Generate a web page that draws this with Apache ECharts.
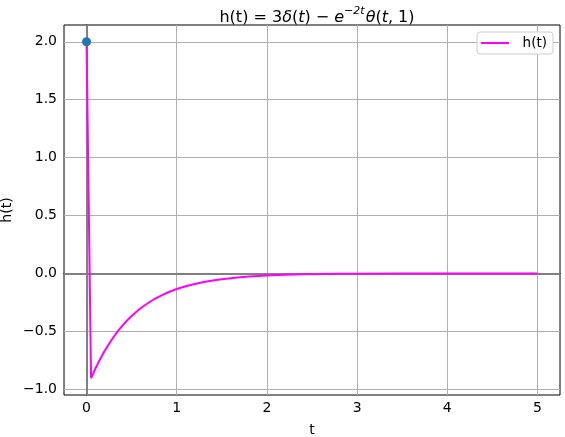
<!DOCTYPE html>
<html>
<head>
<meta charset="utf-8">
<script src="https://cdn.jsdelivr.net/npm/echarts@6/dist/echarts.min.js"></script>
<style>
  html, body { margin: 0; padding: 0; background: #fff; }
  #chart { width: 565px; height: 437px; }
</style>
</head>
<body>
<div id="chart"></div>
<script>
// values
const tVals = [0, 0.05, 0.10, 0.15, 0.20, 0.25, 0.30, 0.35, 0.40, 0.45, 0.50,
  0.55, 0.60, 0.65, 0.70, 0.75, 0.80, 0.85, 0.90, 0.95, 1.00,
  1.1, 1.2, 1.3, 1.4, 1.5, 1.6, 1.7, 1.8, 1.9, 2.0,
  2.2, 2.4, 2.6, 2.8, 3.0, 3.5, 4.0, 4.5, 5.0];
const hVals = [2.0, -0.905, -0.819, -0.741, -0.670, -0.607, -0.549, -0.497, -0.449, -0.407, -0.368,
  -0.333, -0.301, -0.273, -0.247, -0.223, -0.202, -0.183, -0.165, -0.150, -0.135,
  -0.111, -0.091, -0.074, -0.061, -0.050, -0.041, -0.033, -0.027, -0.022, -0.018,
  -0.012, -0.008, -0.006, -0.004, -0.002, -0.001, 0, 0, 0];
const dotPoint = [0, 2];
const xTicks = [0, 1, 2, 3, 4, 5];
const yTicks = [-1.0, -0.5, 0.0, 0.5, 1.0, 1.5, 2.0];

const font = 'DejaVu Sans';
const magenta = '#ff00ff';
const chart = echarts.init(document.getElementById('chart'));

const gridLines = xTicks.map(v => ({ xAxis: v })).concat(yTicks.map(v => ({ yAxis: v })));

const option = {
  animation: false,
  backgroundColor: '#fff',
  textStyle: { fontFamily: font },
  title: {
    text: '{n|h(t) = 3}{i|δ}{n|(}{i|t}{n|) − }{i|e}{s|−2t}{i|θ}{n|(}{i|t}{n|, 1)}',
    left: 312,
    textAlign: 'center',
    top: 1,
    textStyle: {
      fontWeight: 'normal',
      rich: {
        n: { fontFamily: font, fontSize: 16, fontWeight: 'normal', color: '#000' },
        i: { fontFamily: font, fontSize: 16, fontWeight: 'normal', fontStyle: 'italic', color: '#000' },
        s: { fontFamily: font, fontSize: 11, fontWeight: 'normal', fontStyle: 'italic', color: '#000', padding: [0, 1, 12, 0] }
      }
    }
  },
  legend: {
    right: 12,
    top: 32,
    z: 10,
    padding: [4, 6, 4, 4],
    backgroundColor: '#fff',
    borderColor: '#cccccc',
    borderWidth: 1,
    borderRadius: 3,
    itemWidth: 28,
    itemHeight: 2,
    itemGap: 5,
    data: [{ name: 'h(t)', icon: 'rect' }],
    formatter: name => '  ' + name,
    textStyle: { fontFamily: font, fontSize: 13.5, color: '#000' }
  },
  grid: {
    left: 64, top: 25, width: 496, height: 370,
    outerBoundsMode: 'none',
    containLabel: false,
    show: true, borderColor: '#000', borderWidth: 1
  },
  xAxis: {
    type: 'value',
    min: -0.25, max: 5.25,
    name: 't',
    nameLocation: 'middle',
    nameGap: 28,
    nameMoveOverlap: false,
    nameTextStyle: { fontFamily: font, fontSize: 14, color: '#000' },
    axisLine: { show: true, lineStyle: { color: '#000', width: 1 } },
    axisTick: { show: true, customValues: xTicks, length: 4, lineStyle: { color: '#000' } },
    axisLabel: { customValues: xTicks, color: '#000', fontSize: 14, fontFamily: font, margin: 6 },
    splitLine: { show: false }
  },
  yAxis: {
    type: 'value',
    min: -1.05, max: 2.145,
    name: 'h(t)',
    nameLocation: 'middle',
    nameGap: 50,
    nameMoveOverlap: false,
    nameTextStyle: { fontFamily: font, fontSize: 14, color: '#000' },
    axisLine: { show: true, lineStyle: { color: '#000', width: 1 } },
    axisTick: { show: true, customValues: yTicks, length: 4, lineStyle: { color: '#000' } },
    axisLabel: {
      customValues: yTicks, color: '#000', fontSize: 14, fontFamily: font, margin: 7,
      formatter: v => (v < 0 ? '\u2212' : '') + Math.abs(v).toFixed(1)
    },
    splitLine: { show: false }
  },
  series: [
    {
      // grid and zero lines
      type: 'line',
      data: [],
      silent: true,
      z: 1,
      markLine: {
        silent: true,
        symbol: 'none',
        animation: false,
        z: 1,
        label: { show: false },
        lineStyle: { color: '#b0b0b0', width: 1, type: 'solid' },
        data: gridLines.concat([
          { yAxis: 0, lineStyle: { color: '#808080', width: 2 } },
          { xAxis: 0, lineStyle: { color: '#808080', width: 2 } }
        ])
      }
    },
    {
      name: 'h(t)',
      type: 'line',
      data: tVals.map((t, i) => [t, hVals[i]]),
      showSymbol: false,
      symbol: 'none',
      z: 6,
      color: magenta,
      lineStyle: { color: magenta, width: 2 }
    },
    {
      type: 'scatter',
      data: [dotPoint],
      symbolSize: 9,
      z: 8,
      itemStyle: { color: '#1f77b4', opacity: 1 }
    }
  ]
};
chart.setOption(option);
</script>
</body>
</html>
